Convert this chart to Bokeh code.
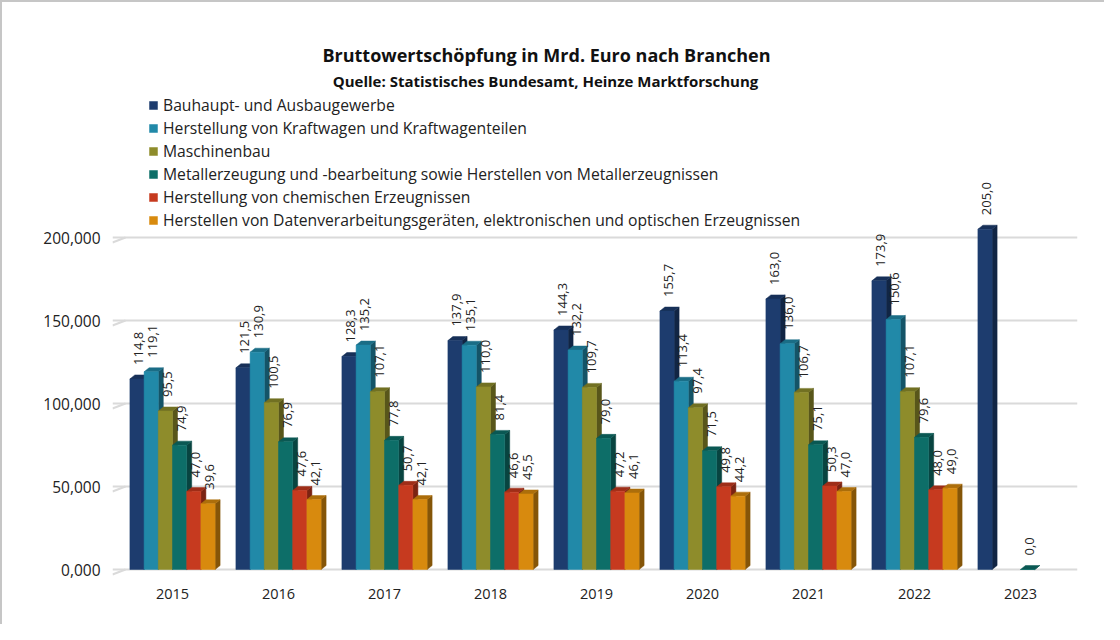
import math
from bokeh.plotting import figure
from bokeh.models import (ColumnDataSource, Label, Legend, LegendItem,
                          FixedTicker, Range1d)
from bokeh.core.properties import value
from bokeh.embed import file_html
from bokeh.resources import INLINE

# ---------------- data ----------------
years = ["2015", "2016", "2017", "2018", "2019", "2020", "2021", "2022", "2023"]
series_names = [
    "Bauhaupt- und Ausbaugewerbe",
    "Herstellung von Kraftwagen und Kraftwagenteilen",
    "Maschinenbau",
    "Metallerzeugung und -bearbeitung sowie Herstellen von Metallerzeugnissen",
    "Herstellung von chemischen Erzeugnissen",
    "Herstellen von Datenverarbeitungsgeräten, elektronischen und optischen Erzeugnissen",
]
bau = [114.8, 121.5, 128.3, 137.9, 144.3, 155.7, 163.0, 173.9, 205.0]
kraft = [119.1, 130.9, 135.2, 135.1, 132.2, 113.4, 136.0, 150.6, None]
masch = [95.5, 100.5, 107.1, 110.0, 109.7, 97.4, 106.7, 107.1, None]
metall = [74.9, 76.9, 77.8, 81.4, 79.0, 71.5, 75.1, 79.6, 0.0]
chem = [47.0, 47.6, 50.7, 46.6, 47.2, 49.8, 50.3, 48.0, None]
daten = [39.6, 42.1, 42.1, 45.5, 46.1, 44.2, 47.0, 49.0, None]
series_values = [bau, kraft, masch, metall, chem, daten]

y_ticks = [0, 50, 100, 150, 200]
y_tick_labels = ["0,000", "50,000", "100,000", "150,000", "200,000"]

title_text = "Bruttowertschöpfung in Mrd. Euro nach Branchen"
subtitle_text = "Quelle: Statistisches Bundesamt, Heinze Marktforschung"

# ---------------- style ----------------
colors = ["#1d3c6e", "#2189a8", "#8e8c2b", "#0d6e68", "#c63a1f", "#d88a0e"]


def darker(hex_color, f=0.62):
    h = hex_color.lstrip("#")
    r, g, b = (int(h[i:i + 2], 16) for i in (0, 2, 4))
    return "#%02x%02x%02x" % (int(r * f), int(g * f), int(b * f))


FONT = "Open Sans"
W, H = 1104, 624
B_LEFT, B_RIGHT, B_TOP, B_BOTTOM = 110, 29, 0, 49
frame_w = W - B_LEFT - B_RIGHT
frame_h = H - B_TOP - B_BOTTOM
px_per_cat = 106.0
px_per_unit = 1.66
x_start = -60 / px_per_cat
x_end = x_start + frame_w / px_per_cat
y_start = -8 / px_per_unit

p = figure(width=W, height=H, output_backend="svg", toolbar_location=None,
           x_range=Range1d(x_start, x_end),
           y_range=Range1d(y_start, y_start + frame_h / px_per_unit),
           min_border_left=B_LEFT, min_border_right=B_RIGHT,
           min_border_top=B_TOP, min_border_bottom=B_BOTTOM,
           title=None)
p.outline_line_color = None
p.background_fill_color = "white"
p.border_fill_color = "white"
p.styles = {"border-top": "2px solid #c6c6c6", "border-left": "2px solid #c6c6c6"}

# axes
p.yaxis.ticker = FixedTicker(ticks=y_ticks)
p.yaxis.major_label_overrides = {t: l for t, l in zip(y_ticks, y_tick_labels)}
p.xaxis.ticker = FixedTicker(ticks=list(range(len(years))))
p.xaxis.major_label_overrides = {i: y for i, y in enumerate(years)}
for ax in (p.xaxis[0], p.yaxis[0]):
    ax.axis_line_color = None
    ax.major_tick_line_color = None
    ax.minor_tick_line_color = None
    ax.major_label_text_font = FONT
    ax.major_label_text_color = "#222222"
p.yaxis[0].major_label_text_font_size = "15.5px"
p.xaxis[0].major_label_text_font_size = "14.5px"
p.yaxis[0].major_label_standoff = 6
p.xaxis[0].major_label_standoff = 5

# grid with small perspective stubs on the left
grid_back = x_start + 13 / px_per_cat
p.ygrid.ticker = FixedTicker(ticks=y_ticks)
p.ygrid.grid_line_color = "#dadada"
p.ygrid.grid_line_width = 2
p.ygrid.bounds = (grid_back, x_end)
p.xgrid.visible = False
p.segment(x0=[x_start] * len(y_ticks), y0=[t - 5 / px_per_unit for t in y_ticks],
          x1=[grid_back] * len(y_ticks), y1=y_ticks,
          line_color="#dadada", line_width=2, level="underlay")

# bars with a simple 3D look
n = len(series_values)
bw = 14.2 / px_per_cat          # bar width in category units
ddx = 5 / px_per_cat            # depth offset (x)
ddy = 4 / px_per_unit           # depth offset (y)
label_gap = 14 / px_per_unit    # gap between bar top and value label

legend_items = []
lab_x, lab_y, lab_t = [], [], []
for j, (vals, col) in enumerate(zip(series_values, colors)):
    xs_c, tops = [], []
    for i, v in enumerate(vals):
        if v is None:
            continue
        xs_c.append(i + (j - (n - 1) / 2) * bw)
        tops.append(v)
    side_xs, side_ys, top_xs, top_ys = [], [], [], []
    for xc, t in zip(xs_c, tops):
        x0, x1 = xc - bw / 2, xc + bw / 2
        side_xs.append([x1, x1 + ddx, x1 + ddx, x1])
        side_ys.append([0, ddy, t + ddy, t])
        top_xs.append([x0, x0 + ddx, x1 + ddx, x1])
        top_ys.append([t, t + ddy, t + ddy, t])
        lab_x.append(xc + ddx / 3)
        lab_y.append(t + label_gap)
        lab_t.append(("%.1f" % t).replace(".", ","))
    dk = darker(col)
    tp = darker(col, 0.8)
    p.patches(xs=side_xs, ys=side_ys, fill_color=dk, line_color=dk, line_width=0.5)
    p.patches(xs=top_xs, ys=top_ys, fill_color=tp, line_color=tp, line_width=0.5)
    src = ColumnDataSource(dict(x=xs_c, top=tops))
    r = p.vbar(x="x", top="top", bottom=0, width=bw, source=src,
               fill_color=col, line_color=col, line_width=0.5)
    legend_items.append(LegendItem(label=series_names[j], renderers=[r]))

lab_src = ColumnDataSource(dict(x=lab_x, y=lab_y, t=lab_t))
p.text(x="x", y="y", text="t", source=lab_src, angle=math.pi / 2,
       text_align="left", text_baseline="middle",
       text_font=value(FONT), text_font_size="13px", text_color="#222222")

legend = Legend(items=legend_items, location=(36, 346))
legend.orientation = "vertical"
legend.padding = 0
legend.margin = 0
legend.spacing = 1
legend.label_height = 20
legend.glyph_width = 10
legend.glyph_height = 10
legend.label_standoff = 5
legend.border_line_color = None
legend.background_fill_alpha = 0
legend.label_text_font = FONT
legend.label_text_font_size = "15.7px"
legend.label_text_color = "#222222"
legend.click_policy = "none"
p.add_layout(legend, "center")

p.add_layout(Label(x=434, y=frame_h - 52, x_units="screen", y_units="screen",
                   text=title_text, text_align="center", text_baseline="middle",
                   text_font=FONT, text_font_style="bold", text_font_size="18px",
                   text_color="#111111"))
p.add_layout(Label(x=433, y=frame_h - 78, x_units="screen", y_units="screen",
                   text=subtitle_text, text_align="center", text_baseline="middle",
                   text_font=FONT, text_font_style="bold", text_font_size="15px",
                   text_color="#111111"))

open("out.html", "w").write(file_html(p, INLINE))
